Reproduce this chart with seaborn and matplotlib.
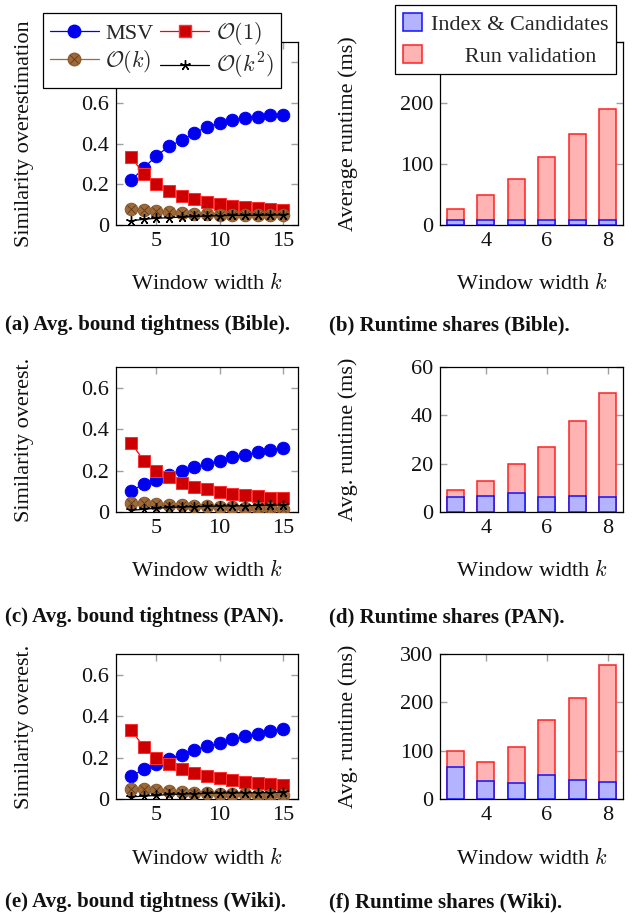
import matplotlib
matplotlib.use("Agg")
import matplotlib.pyplot as plt
import seaborn as sns
import pandas as pd
from matplotlib.lines import Line2D
from matplotlib.patches import Patch
from matplotlib.legend_handler import HandlerTuple

# ---------------- data ----------------
k_bound = [3, 4, 5, 6, 7, 8, 9, 10, 11, 12, 13, 14, 15]

bible_msv = [0.219, 0.281, 0.340, 0.387, 0.417, 0.453, 0.482, 0.502, 0.518, 0.528, 0.533, 0.539, 0.543]
bible_o1 = [0.332, 0.253, 0.203, 0.167, 0.144, 0.126, 0.113, 0.103, 0.095, 0.088, 0.082, 0.077, 0.074]
bible_ok = [0.078, 0.074, 0.067, 0.062, 0.057, 0.054, 0.052, 0.051, 0.050, 0.049, 0.049, 0.048, 0.048]
bible_ok2 = [0.021, 0.028, 0.033, 0.036, 0.039, 0.042, 0.044, 0.046, 0.047, 0.048, 0.048, 0.049, 0.049]

pan_msv = [0.101, 0.136, 0.155, 0.181, 0.197, 0.219, 0.232, 0.248, 0.264, 0.277, 0.288, 0.299, 0.310]
pan_o1 = [0.333, 0.248, 0.197, 0.168, 0.142, 0.123, 0.109, 0.098, 0.088, 0.082, 0.075, 0.070, 0.066]
pan_ok = [0.043, 0.043, 0.040, 0.035, 0.032, 0.029, 0.027, 0.024, 0.022, 0.021, 0.019, 0.018, 0.016]
pan_ok2 = [0.008, 0.013, 0.018, 0.022, 0.024, 0.026, 0.027, 0.029, 0.029, 0.030, 0.032, 0.032, 0.034]

wiki_msv = [0.111, 0.143, 0.171, 0.195, 0.214, 0.238, 0.254, 0.270, 0.289, 0.302, 0.314, 0.330, 0.340]
wiki_o1 = [0.333, 0.251, 0.198, 0.167, 0.143, 0.124, 0.111, 0.100, 0.090, 0.084, 0.076, 0.071, 0.067]
wiki_ok = [0.049, 0.048, 0.043, 0.037, 0.033, 0.030, 0.029, 0.025, 0.024, 0.022, 0.021, 0.019, 0.017]
wiki_ok2 = [0.010, 0.014, 0.017, 0.022, 0.024, 0.025, 0.027, 0.029, 0.029, 0.030, 0.030, 0.031, 0.032]

k_runtime = [3, 4, 5, 6, 7, 8]
bible_index = [7.5, 7.5, 7.5, 7.5, 7.5, 7.5]
bible_valid = [18.6, 40.9, 67.5, 103.9, 142.0, 182.7]
pan_index = [6.0, 6.7, 7.9, 6.3, 6.7, 6.3]
pan_valid = [3.2, 6.3, 11.8, 20.6, 30.9, 42.8]
wiki_index = [66.2, 36.4, 32.3, 49.7, 39.3, 35.2]
wiki_valid = [32.4, 39.4, 74.5, 113.0, 170.4, 242.2]

bound_labels = ["MSV", r"$\mathcal{O}(1)$", r"$\mathcal{O}(k)$", r"$\mathcal{O}(k^2)$"]
runtime_labels = ["Index & Candidates", "      Run validation"]
xlabel_text = r"Window width $k$"
captions = [
    "(a) Avg. bound tightness (Bible).", "(b) Runtime shares (Bible).",
    "(c) Avg. bound tightness (PAN).", "(d) Runtime shares (PAN).",
    "(e) Avg. bound tightness (Wiki).", "(f) Runtime shares (Wiki).",
]
bound_yticks_top = [0, 0.2, 0.4, 0.6, 0.8]
bound_ytick_labels_top = ["0", "0.2", "0.4", "0.6", ""]   # 0.8 hidden by the legend
bound_yticks = [0, 0.2, 0.4, 0.6]
bound_ytick_labels = ["0", "0.2", "0.4", "0.6"]
bound_xticks = [5, 10, 15]
rt_xticks = [4, 6, 8]
rt_yticks = [[0, 100, 200, 300], [0, 20, 40, 60], [0, 100, 200, 300]]
rt_ytick_labels = [["0", "100", "200", ""], ["0", "20", "40", "60"], ["0", "100", "200", "300"]]

# ---------------- style ----------------
sns.set_theme(style="white")
plt.rcParams["font.family"] = ["Liberation Serif", "DejaVu Serif"]
plt.rcParams["mathtext.fontset"] = "cm"
plt.rcParams["axes.edgecolor"] = "black"
plt.rcParams["axes.linewidth"] = 0.9

FS = 16
CAP_FS = 15
W, H = 634, 913
fig = plt.figure(figsize=(W / 100, H / 100), dpi=100)


def add_ax(left, right, top, bottom):
    return fig.add_axes([left / W, 1 - bottom / H, (right - left) / W, (bottom - top) / H])


def style_ax(ax, xt, yt, ylabels, xlim, ylim, ylabel, ylab_frac_x, xlab_frac_y):
    ax.set_xlim(*xlim)
    ax.set_ylim(*ylim)
    ax.set_xticks(xt)
    ax.set_xticklabels([str(v) for v in xt])
    ax.set_yticks(yt)
    ax.set_yticklabels(ylabels)
    ax.tick_params(axis="both", which="both", direction="in", length=5, width=1,
                   color="#a0a0a0", labelsize=FS, top=True, right=True,
                   left=True, bottom=True, pad=5, labelcolor="#111111")
    for s in ax.spines.values():
        s.set_color("black")
        s.set_linewidth(0.9)
        s.set_visible(True)
    ax.set_xlabel(xlabel_text, fontsize=FS, color="#111111")
    ax.xaxis.set_label_coords(0.5, xlab_frac_y)
    ax.xaxis.label.set_va("center")
    ax.set_ylabel(ylabel, fontsize=FS, color="#111111")
    ax.yaxis.set_label_coords(ylab_frac_x, 0.5)
    ax.yaxis.label.set_va("center")
    ax.grid(False)


BLUE = "#0000ee"
RED_FACE = "#cc0000"
RED_EDGE = "#ff3030"
BROWN = "#9f6a3a"
BROWN_EDGE = "#8a5a30"
BROWN_DARK = "#5e3a1a"

MS_C = 9.0
MS_S = 8.5


def bound_panel(ax, msv, o1, ok, ok2):
    sns.lineplot(x=k_bound, y=msv, ax=ax, color="blue", lw=0.9, marker="o", markersize=MS_C,
                 markerfacecolor=BLUE, markeredgecolor="blue", zorder=3)
    sns.lineplot(x=k_bound, y=o1, ax=ax, color="red", lw=0.9, marker="s", markersize=MS_S,
                 markerfacecolor=RED_FACE, markeredgecolor=RED_EDGE, zorder=3)
    sns.lineplot(x=k_bound, y=ok, ax=ax, color=BROWN, lw=0.9, marker="o", markersize=MS_C,
                 markerfacecolor=BROWN, markeredgecolor=BROWN_EDGE, zorder=3)
    sns.lineplot(x=k_bound, y=ok, ax=ax, color=BROWN_DARK, lw=0, marker="x", markersize=5.5,
                 markeredgewidth=0.6, markeredgecolor=BROWN_DARK, zorder=3.1)
    sns.lineplot(x=k_bound, y=ok2, ax=ax, color="black", lw=0.9, marker=(5, 2, 0), markersize=7.5,
                 markeredgewidth=1.0, markeredgecolor="black", zorder=4)


def runtime_panel(ax, idx, valid):
    total = [a + b for a, b in zip(idx, valid)]
    sns.barplot(x=k_runtime, y=total, ax=ax, native_scale=True, width=0.55,
                color="#ffb3b3", saturation=1, edgecolor="#ff2020", linewidth=1.1,
                errorbar=None, zorder=2)
    sns.barplot(x=k_runtime, y=idx, ax=ax, native_scale=True, width=0.55,
                color="#b3b3ff", saturation=1, edgecolor="#1010ff", linewidth=1.1,
                errorbar=None, zorder=3)


L1, R1 = 116, 298
L2, R2 = 440, 623
rows = [(42, 225), (367, 512), (654, 799)]
xlab_px = [283, 570, 858]
cap_px = [325, 617, 902]

bound_data = [(bible_msv, bible_o1, bible_ok, bible_ok2),
              (pan_msv, pan_o1, pan_ok, pan_ok2),
              (wiki_msv, wiki_o1, wiki_ok, wiki_ok2)]
rt_data = [(bible_index, bible_valid), (pan_index, pan_valid), (wiki_index, wiki_valid)]
rt_ylims = [300, 60, 300]
bound_ylabels = ["Similarity overestimation", "Similarity overest.", "Similarity overest."]
rt_ylabels = ["Average runtime (ms)", "Avg. runtime (ms)", "Avg. runtime (ms)"]

for i, (top, bottom) in enumerate(rows):
    hpx = bottom - top
    xfrac = -(xlab_px[i] - bottom) / hpx
    # left: bound tightness
    axl = add_ax(L1, R1, top, bottom)
    bound_panel(axl, *bound_data[i])
    yt = bound_yticks_top if i == 0 else bound_yticks
    ytl = bound_ytick_labels_top if i == 0 else bound_ytick_labels
    style_ax(axl, bound_xticks, yt, ytl, (1.8, 16.2),
             (0, 0.9 if i == 0 else 0.7), bound_ylabels[i], (25 - L1) / (R1 - L1), xfrac)
    # right: runtime
    axr = add_ax(L2, R2, top, bottom)
    runtime_panel(axr, *rt_data[i])
    style_ax(axr, rt_xticks, rt_yticks[i], rt_ytick_labels[i], (2.5, 8.5),
             (0, rt_ylims[i]), rt_ylabels[i], (348 - L2) / (R2 - L2), xfrac)

    if i == 0:
        h_msv = Line2D([], [], color="blue", lw=0.9, marker="o", ms=MS_C,
                       markerfacecolor=BLUE, markeredgecolor="blue")
        h_o1 = Line2D([], [], color="red", lw=0.9, marker="s", ms=MS_S,
                      markerfacecolor=RED_FACE, markeredgecolor=RED_EDGE)
        h_ok_a = Line2D([], [], color=BROWN, lw=0.9, marker="o", ms=MS_C,
                        markerfacecolor=BROWN, markeredgecolor=BROWN_EDGE)
        h_ok_b = Line2D([], [], color=BROWN_DARK, lw=0, marker="x", ms=5.5,
                        markeredgewidth=0.6, markeredgecolor=BROWN_DARK)
        h_ok2 = Line2D([], [], color="black", lw=0.9, marker=(5, 2, 0), ms=7.5,
                       markeredgewidth=1.0, markeredgecolor="black")
        leg = axl.legend([h_msv, (h_ok_a, h_ok_b), h_o1, h_ok2],
                         [bound_labels[0], bound_labels[2], bound_labels[1], bound_labels[3]],
                         handler_map={tuple: HandlerTuple(ndivide=1, pad=0)},
                         ncol=2, loc="upper left",
                         bbox_to_anchor=((43 - L1) / (R1 - L1), (bottom - 13) / hpx),
                         fontsize=FS, frameon=True, fancybox=False, framealpha=1,
                         edgecolor="black", handlelength=2.2, columnspacing=0.3,
                         handletextpad=0.3, borderpad=0.3, labelspacing=0.2,
                         borderaxespad=0)
        leg.get_frame().set_linewidth(0.9)
        leg.set_zorder(10)

        p_idx = Patch(facecolor="#b3b3ff", edgecolor="#1010ff", linewidth=1.1)
        p_val = Patch(facecolor="#ffb3b3", edgecolor="#ff2020", linewidth=1.1)
        leg2 = axr.legend([p_idx, p_val], runtime_labels, loc="upper left",
                          bbox_to_anchor=((395 - L2) / (R2 - L2), (bottom - 5) / hpx),
                          fontsize=FS, frameon=True, fancybox=False, framealpha=1,
                          edgecolor="black", handlelength=0.85, handleheight=0.9,
                          handletextpad=0.4, borderpad=0.35, labelspacing=0.45,
                          borderaxespad=0)
        leg2.get_frame().set_linewidth(0.9)
        leg2.set_zorder(10)

    fig.text(5 / W, 1 - cap_px[i] / H, captions[2 * i], fontsize=CAP_FS, fontweight="bold",
             va="center", ha="left", color="#111111")
    fig.text(329 / W, 1 - cap_px[i] / H, captions[2 * i + 1], fontsize=CAP_FS, fontweight="bold",
             va="center", ha="left", color="#111111")

fig.savefig("out.png", dpi=100)
